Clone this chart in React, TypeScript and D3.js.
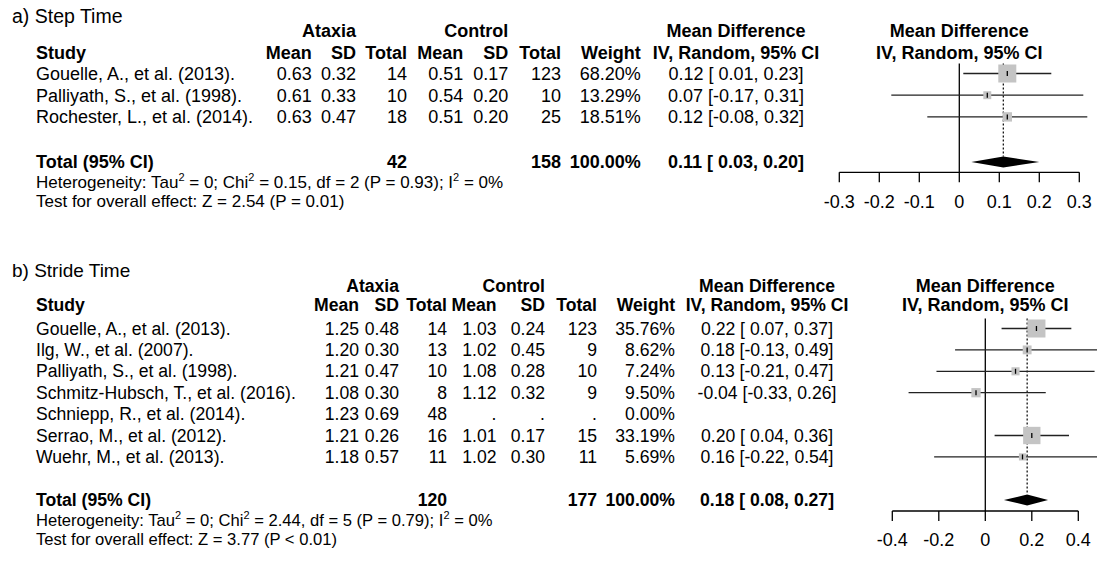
import React from "react";
import * as d3 from "d3";

// ---------- Data: a) Step Time ----------
const studiesA = ["Gouelle, A., et al. (2013).", "Palliyath, S., et al. (1998).", "Rochester, L., et al. (2014)."];
const ataxiaMeanA = [0.63, 0.61, 0.63];
const ataxiaSdA = [0.32, 0.33, 0.47];
const ataxiaNA = [14, 10, 18];
const controlMeanA = [0.51, 0.54, 0.51];
const controlSdA = [0.17, 0.20, 0.20];
const controlNA = [123, 10, 25];
const weightA = [68.20, 13.29, 18.51];
const mdA = [0.12, 0.07, 0.12];
const loA = [0.01, -0.17, -0.08];
const hiA = [0.23, 0.31, 0.32];
const totalA = { nA: 42, nC: 158, md: 0.11, lo: 0.03, hi: 0.20 };
const hetA = { chi: "0.15", df: "2", p: "0.93", i2: "0%", z: "2.54", pz: "= 0.01" };
const ticksA = [-0.3, -0.2, -0.1, 0, 0.1, 0.2, 0.3];

// ---------- Data: b) Stride Time ----------
const studiesB = [
  "Gouelle, A., et al. (2013).",
  "Ilg, W., et al. (2007).",
  "Palliyath, S., et al. (1998).",
  "Schmitz-Hubsch, T., et al. (2016).",
  "Schniepp, R., et al. (2014).",
  "Serrao, M., et al. (2012).",
  "Wuehr, M., et al. (2013).",
];
const ataxiaMeanB = [1.25, 1.20, 1.21, 1.08, 1.23, 1.21, 1.18];
const ataxiaSdB = [0.48, 0.30, 0.47, 0.30, 0.69, 0.26, 0.57];
const ataxiaNB = [14, 13, 10, 8, 48, 16, 11];
const controlMeanB = [1.03, 1.02, 1.08, 1.12, null, 1.01, 1.02];
const controlSdB = [0.24, 0.45, 0.28, 0.32, null, 0.17, 0.30];
const controlNB = [123, 9, 10, 9, null, 15, 11];
const weightB = [35.76, 8.62, 7.24, 9.50, 0.00, 33.19, 5.69];
const mdB = [0.22, 0.18, 0.13, -0.04, null, 0.20, 0.16];
const loB = [0.07, -0.13, -0.21, -0.33, null, 0.04, -0.22];
const hiB = [0.37, 0.49, 0.47, 0.26, null, 0.36, 0.54];
const totalB = { nA: 120, nC: 177, md: 0.18, lo: 0.08, hi: 0.27 };
const hetB = { chi: "2.44", df: "5", p: "0.79", i2: "0%", z: "3.77", pz: "< 0.01" };
const ticksB = [-0.4, -0.2, 0, 0.2, 0.4];

const FONT = "'Liberation Sans', Arial, Helvetica, sans-serif";

const f2 = (v) => (v == null ? "." : v.toFixed(2));
const sgn = (v) => (v < 0 ? v.toFixed(2) : " " + v.toFixed(2));
const mdStr = (m, l, h) => `${m.toFixed(2)} [${sgn(l)}, ${h.toFixed(2)}]`;

type Layout = {
  title: string;
  fs: number;
  fsNote: number;
  fsTitle: number;
  titleY: number;
  groupY: number;
  headY: number;
  rowY0: number;
  rowStep: number;
  totalY: number;
  hetY: number;
  testY: number;
  axisY: number;
  cols: { mean: number; sd: number; tot: number; cmean: number; csd: number; ctot: number; w: number; md: number };
  range: [number, number];
  domain: [number, number];
};

const layoutA: Layout = {
  title: "a) Step Time",
  fs: 18,
  fsNote: 17,
  fsTitle: 19.5,
  titleY: 16,
  groupY: 31,
  headY: 52.3,
  rowY0: 73.5,
  rowStep: 21.7,
  totalY: 162,
  hetY: 182,
  testY: 201,
  axisY: 172.3,
  cols: { mean: 311.7, sd: 356, tot: 407, cmean: 463.3, csd: 508.3, ctot: 561, w: 640.7, md: 736 },
  range: [839.3, 1079.3],
  domain: [-0.3, 0.3],
};

const layoutB: Layout = {
  title: "b) Stride Time",
  fs: 17.6,
  fsNote: 16.6,
  fsTitle: 19,
  titleY: 270,
  groupY: 286,
  headY: 304.5,
  rowY0: 328.5,
  rowStep: 21.4,
  totalY: 500,
  hetY: 520,
  testY: 539,
  axisY: 511,
  cols: { mean: 359, sd: 399, tot: 447, cmean: 496.5, csd: 545, ctot: 597, w: 675, md: 767 },
  range: [892.3, 1078.3],
  domain: [-0.4, 0.4],
};

function T({ x, y, children, anchor = "start", bold = false, size }) {
  return (
    <text
      x={x}
      y={y}
      dy="0.35em"
      textAnchor={anchor}
      fontWeight={bold ? "bold" : "normal"}
      fontSize={size}
      style={{ whiteSpace: "pre" }}
    >
      {children}
    </text>
  );
}

function Panel({ L, d }) {
  const c = L.cols;
  const fs = L.fs;
  const x = d3.scaleLinear().domain(L.domain).range(L.range);
  const maxW = d3.max(d.weight) as number;
  const ys = d.studies.map((_, i) => L.rowY0 + i * L.rowStep);
  const top = L.rowY0 - 10;
  const dh = 5.5;
  const diamond = d3.line()([
    [x(d.total.lo), L.totalY],
    [x(d.total.md), L.totalY - dh],
    [x(d.total.hi), L.totalY],
    [x(d.total.md), L.totalY + dh],
  ]) + "Z";
  const sup = (s) => (
    <tspan fontSize={11} dy={-7}>
      {s}
    </tspan>
  );
  const back = (s) => <tspan dy={7}>{s}</tspan>;
  return (
    <g>
      <T x={12} y={L.titleY} size={L.fsTitle}>
        {L.title}
      </T>
      <T x={c.sd} y={L.groupY} anchor="end" bold size={fs}>
        Ataxia
      </T>
      <T x={c.csd} y={L.groupY} anchor="end" bold size={fs}>
        Control
      </T>
      <T x={c.md} y={L.groupY} anchor="middle" bold size={fs}>
        Mean Difference
      </T>
      <T x={36} y={L.headY} bold size={fs}>
        Study
      </T>
      <T x={c.mean} y={L.headY} anchor="end" bold size={fs}>Mean</T>
      <T x={c.sd} y={L.headY} anchor="end" bold size={fs}>SD</T>
      <T x={c.tot} y={L.headY} anchor="end" bold size={fs}>Total</T>
      <T x={c.cmean} y={L.headY} anchor="end" bold size={fs}>Mean</T>
      <T x={c.csd} y={L.headY} anchor="end" bold size={fs}>SD</T>
      <T x={c.ctot} y={L.headY} anchor="end" bold size={fs}>Total</T>
      <T x={c.w} y={L.headY} anchor="end" bold size={fs}>Weight</T>
      <T x={c.md} y={L.headY} anchor="middle" bold size={fs}>IV, Random, 95% CI</T>
      <T x={x(0)} y={L.groupY} anchor="middle" bold size={18}>Mean Difference</T>
      <T x={x(0)} y={L.headY} anchor="middle" bold size={18}>IV, Random, 95% CI</T>

      {d.studies.map((s, i) => (
        <g key={s}>
          <T x={36} y={ys[i]} size={fs}>{s}</T>
          <T x={c.mean} y={ys[i]} anchor="end" size={fs}>{f2(d.aMean[i])}</T>
          <T x={c.sd} y={ys[i]} anchor="end" size={fs}>{f2(d.aSd[i])}</T>
          <T x={c.tot} y={ys[i]} anchor="end" size={fs}>{String(d.aN[i])}</T>
          <T x={c.cmean} y={ys[i]} anchor="end" size={fs}>{f2(d.cMean[i])}</T>
          <T x={c.csd} y={ys[i]} anchor="end" size={fs}>{f2(d.cSd[i])}</T>
          <T x={c.ctot} y={ys[i]} anchor="end" size={fs}>{d.cN[i] == null ? "." : String(d.cN[i])}</T>
          <T x={c.w} y={ys[i]} anchor="end" size={fs}>{d.weight[i].toFixed(2) + "%"}</T>
          {d.md[i] != null && (
            <T x={c.md} y={ys[i]} anchor="middle" size={fs}>{mdStr(d.md[i], d.lo[i], d.hi[i])}</T>
          )}
        </g>
      ))}

      <T x={36} y={L.totalY} bold size={fs}>Total (95% CI)</T>
      <T x={c.tot} y={L.totalY} anchor="end" bold size={fs}>{String(d.total.nA)}</T>
      <T x={c.ctot} y={L.totalY} anchor="end" bold size={fs}>{String(d.total.nC)}</T>
      <T x={c.w} y={L.totalY} anchor="end" bold size={fs}>100.00%</T>
      <T x={c.md} y={L.totalY} anchor="middle" bold size={fs}>{mdStr(d.total.md, d.total.lo, d.total.hi)}</T>

      <text x={36} y={L.hetY} dy="0.35em" fontSize={L.fsNote} style={{ whiteSpace: "pre" }}>
        {"Heterogeneity: Tau"}
        {sup("2")}
        {back(" = 0; Chi")}
        {sup("2")}
        {back(` = ${d.het.chi}, df = ${d.het.df} (P = ${d.het.p}); I`)}
        {sup("2")}
        {back(` = ${d.het.i2}`)}
      </text>
      <T x={36} y={L.testY} size={L.fsNote}>
        {`Test for overall effect: Z = ${d.het.z} (P ${d.het.pz})`}
      </T>

      {/* forest plot */}
      <line x1={x(0)} x2={x(0)} y1={top} y2={L.axisY} stroke="#000" strokeWidth={1.3} />
      <line
        x1={x(d.total.md)}
        x2={x(d.total.md)}
        y1={top}
        y2={L.totalY - dh}
        stroke="#000"
        strokeWidth={1.2}
        strokeDasharray="2,2"
      />
      {d.studies.map((s, i) => {
        if (d.md[i] == null) return null;
        const side = 18 * Math.sqrt(d.weight[i] / maxW);
        return (
          <g key={"p" + s}>
            <line x1={x(d.lo[i])} x2={x(d.hi[i])} y1={ys[i]} y2={ys[i]} stroke="#222" strokeWidth={1.3} />
            <rect x={x(d.md[i]) - side / 2} y={ys[i] - side / 2} width={side} height={side} fill="#c4c4c4" />
            <line x1={x(d.md[i])} x2={x(d.md[i])} y1={ys[i] - 2.5} y2={ys[i] + 2.5} stroke="#000" strokeWidth={1.3} />
          </g>
        );
      })}
      <path d={diamond} fill="#000" />
      <line x1={L.range[0]} x2={L.range[1]} y1={L.axisY} y2={L.axisY} stroke="#000" strokeWidth={1.3} />
      {d.ticks.map((t) => (
        <g key={"t" + t}>
          <line x1={x(t)} x2={x(t)} y1={L.axisY} y2={L.axisY + 10} stroke="#000" strokeWidth={1.3} />
          <T x={x(t)} y={L.axisY + 29} anchor="middle" size={18}>
            {t === 0 ? "0" : t.toFixed(1)}
          </T>
        </g>
      ))}
    </g>
  );
}

const dataA = {
  studies: studiesA, aMean: ataxiaMeanA, aSd: ataxiaSdA, aN: ataxiaNA,
  cMean: controlMeanA, cSd: controlSdA, cN: controlNA, weight: weightA,
  md: mdA, lo: loA, hi: hiA, total: totalA, het: hetA, ticks: ticksA,
};
const dataB = {
  studies: studiesB, aMean: ataxiaMeanB, aSd: ataxiaSdB, aN: ataxiaNB,
  cMean: controlMeanB, cSd: controlSdB, cN: controlNB, weight: weightB,
  md: mdB, lo: loB, hi: hiB, total: totalB, het: hetB, ticks: ticksB,
};

export default function App() {
  return (
    <svg
      width={1097}
      height={563}
      style={{ position: "absolute", left: 0, top: 0, background: "#fff" }}
      fontFamily={FONT}
      fill="#000"
    >
      <rect width={1097} height={563} fill="#fff" />
      <Panel L={layoutA} d={dataA} />
      <Panel L={layoutB} d={dataB} />
    </svg>
  );
}
